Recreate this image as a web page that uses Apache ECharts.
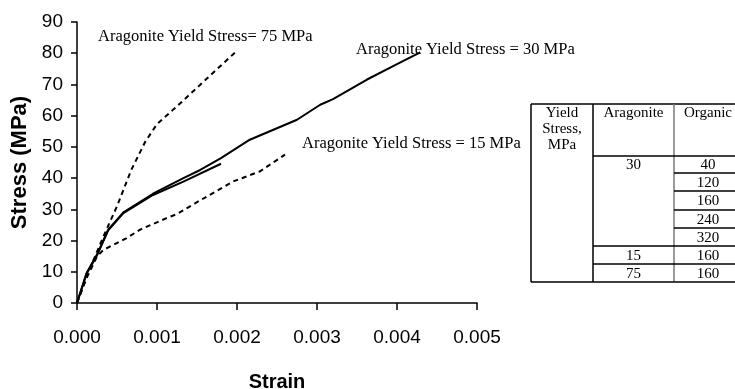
<!DOCTYPE html>
<html>
<head>
<meta charset="utf-8">
<script src="https://cdn.jsdelivr.net/npm/echarts@6/dist/echarts.min.js"></script>
<style>
html, body { margin: 0; padding: 0; background: #fff; }
#chart { width: 735px; height: 389px; }
</style>
</head>
<body>
<div id="chart"></div>
<script>
// strain / stress pairs
var yield30Long = [[0, 0], [0.00012, 9.6], [0.00025, 15.5], [0.00039, 23.5], [0.00058, 29.0], [0.00095, 35.0],
  [0.00133, 40.0], [0.00154, 42.6], [0.0018, 46.4], [0.00216, 52.3], [0.00275, 58.7], [0.00304, 63.5],
  [0.0032, 65.3], [0.00362, 71.5], [0.004, 76.5], [0.00429, 80.3]];
var yield30Short = [[0, 0], [0.00012, 9.4], [0.00025, 15.3], [0.00039, 23.3], [0.00058, 28.8], [0.00095, 34.6],
  [0.00133, 38.9], [0.0018, 44.6]];
var yield75 = [[0, 0], [0.00012, 8.5], [0.00033, 21.3], [0.0005, 31], [0.00068, 42.7], [0.00085, 51.5],
  [0.001, 57.3], [0.00125, 63], [0.00162, 71.8], [0.002, 80.8]];
var yield15 = [[0, 0], [0.00012, 8.0], [0.00025, 14.9], [0.00033, 17.0], [0.00062, 20.8], [0.00079, 23.5],
  [0.00112, 27.2], [0.00125, 28.5], [0.00148, 32], [0.00195, 38.9], [0.00229, 42.2], [0.0026, 47.5]];

// table contents
var tableHeader = ['Yield\nStress,\nMPa', 'Aragonite', 'Organic'];
var tableAragonite = ['30', '15', '75'];
var tableOrganic = ['40', '120', '160', '240', '320', '160', '160'];

var notes = ['Aragonite Yield Stress= 75 MPa', 'Aragonite Yield Stress = 30 MPa', 'Aragonite Yield Stress = 15 MPa'];

var serif = '"Liberation Serif", "Times New Roman", serif';
var sans = '"Liberation Sans", Arial, sans-serif';

// table geometry (px)
var colX = [531, 593, 674, 745];
var rowY = [104, 156, 173, 191, 210, 228, 246, 264, 282];

function hline(x1, x2, y, color) {
  return { type: 'line', shape: { x1: x1, y1: y, x2: x2, y2: y }, style: { stroke: color || '#000', lineWidth: 1.5 } };
}
function vline(x, y1, y2, color) {
  return { type: 'line', shape: { x1: x, y1: y1, x2: x, y2: y2 }, style: { stroke: color || '#000', lineWidth: 1.5 } };
}
function txt(s, x, y, va) {
  return { type: 'text', x: x, y: y, style: { text: s, font: '15px ' + serif, fill: '#000', align: 'center', verticalAlign: va || 'middle', lineHeight: 16 } };
}

var g = [];
// borders
g.push(hline(colX[0], colX[3], rowY[0]));
g.push(vline(colX[0], rowY[0], rowY[8]));
g.push(vline(colX[1], rowY[0], rowY[8]));
g.push(vline(colX[2], rowY[0], rowY[8], '#777'));
g.push(hline(colX[0], colX[3], rowY[8]));
g.push(hline(colX[1], colX[3], rowY[1]));
for (var i = 2; i <= 5; i++) g.push(hline(colX[2], colX[3], rowY[i]));
g.push(hline(colX[1], colX[3], rowY[6]));
g.push(hline(colX[1], colX[3], rowY[7]));
// texts
g.push(txt(tableHeader[0], (colX[0] + colX[1]) / 2, 105, 'top'));
g.push(txt(tableHeader[1], (colX[1] + colX[2]) / 2, 113));
g.push(txt(tableHeader[2], 708, 113));
var aragRows = [1, 6, 7];
tableAragonite.forEach(function (v, k) {
  var r = aragRows[k];
  g.push(txt(v, (colX[1] + colX[2]) / 2, (rowY[r] + rowY[r + 1]) / 2 + 1));
});
tableOrganic.forEach(function (v, k) {
  g.push(txt(v, 708, (rowY[k + 1] + rowY[k + 2]) / 2 + 1));
});
// curve notes
var noteStyle = function (s) { return { text: s, font: '16.5px ' + serif, fill: '#000', verticalAlign: 'middle' }; };
g.push({ type: 'text', x: 98, y: 37, style: noteStyle(notes[0]) });
g.push({ type: 'text', x: 356, y: 50, style: noteStyle(notes[1]) });
g.push({ type: 'text', x: 302, y: 144, style: noteStyle(notes[2]) });

var chart = echarts.init(document.getElementById('chart'), null, { renderer: 'canvas' });

function lineSeries(name, data, dashed) {
  return {
    name: name, type: 'line', data: data, symbol: 'none', smooth: false, animation: false,
    lineStyle: { color: '#000', width: 2, type: dashed ? [5, 4] : 'solid' },
    z: 3
  };
}

var option = {
  animation: false,
  backgroundColor: '#fff',
  grid: { left: 77, right: 258, top: 22, bottom: 86, containLabel: false, outerBoundsMode: 'none' },
  xAxis: {
    type: 'value', min: 0, max: 0.005, interval: 0.001,
    name: 'Strain', nameLocation: 'middle', nameGap: 69,
    nameTextStyle: { fontFamily: sans, fontWeight: 'bold', fontSize: 20, color: '#000' },
    axisLine: { lineStyle: { color: '#000', width: 1.5 } },
    axisTick: { inside: false, length: 7, lineStyle: { color: '#000', width: 1.5 } },
    axisLabel: { margin: 25, fontFamily: sans, fontSize: 19, color: '#000', formatter: function (v) { return v.toFixed(3); } },
    splitLine: { show: false }
  },
  yAxis: {
    type: 'value', min: 0, max: 90, interval: 10,
    name: 'Stress (MPa)', nameLocation: 'middle', nameGap: 42, nameRotate: 90,
    nameTextStyle: { fontFamily: sans, fontWeight: 'bold', fontSize: 22, color: '#000' },
    axisLine: { show: true, lineStyle: { color: '#000', width: 1.5 } },
    axisTick: { show: true, inside: false, length: 6, lineStyle: { color: '#000', width: 1.5 } },
    axisLabel: { margin: 14, fontFamily: sans, fontSize: 19, color: '#000' },
    splitLine: { show: false }
  },
  series: [
    lineSeries('30 MPa long', yield30Long, false),
    lineSeries('30 MPa short', yield30Short, false),
    lineSeries('75 MPa', yield75, true),
    lineSeries('15 MPa', yield15, true)
  ],
  graphic: g
};
chart.setOption(option);
</script>
</body>
</html>
